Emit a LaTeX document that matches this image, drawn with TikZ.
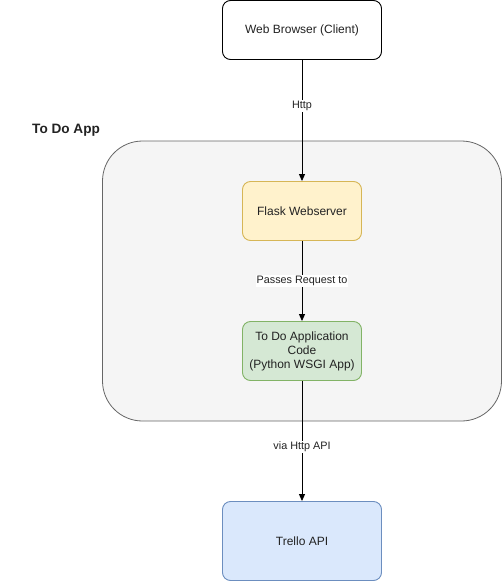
\documentclass[tikz,border=0pt]{standalone}
\usepackage{fontspec}
\setmainfont{Liberation Sans}
\usetikzlibrary{arrows.meta}
\definecolor{yfill}{HTML}{FFF2CC}\definecolor{ydraw}{HTML}{D6B656}
\definecolor{gfill}{HTML}{D5E8D4}\definecolor{gdraw}{HTML}{82B366}
\definecolor{bfill}{HTML}{DAE8FC}\definecolor{bdraw}{HTML}{6C8EBF}
\definecolor{cfill}{HTML}{F5F5F5}\definecolor{cdraw}{HTML}{666666}
\definecolor{txt}{HTML}{222222}
\tikzset{
  box/.style={draw, rounded corners=8pt, line width=0.9pt, align=center, text=txt, font=\fontsize{12}{14}\selectfont, inner sep=0pt},
  conn/.style={line width=0.9pt, -{Triangle[length=7pt,width=6pt]}},
  lbl/.style={fill=white, text=txt, font=\fontsize{10.8}{12}\selectfont, inner sep=1pt}
}
\begin{document}
\begin{tikzpicture}[x=1pt,y=-1pt]
\useasboundingbox (0,0) rectangle (503,582);
\node[draw=cdraw, fill=cfill, rounded corners=40pt, line width=0.8pt, minimum width=399pt, minimum height=280pt, inner sep=0pt] (cont) at (302,281) {};
\node[anchor=west, inner sep=0pt, font=\fontsize{13.6}{15}\selectfont\bfseries, text=txt] (title) at (32,130) {To Do App};
\node[box, draw=black, fill=white, minimum width=159pt, minimum height=59pt] (web) at (302,30) {Web Browser (Client)};
\node[box, draw=ydraw, fill=yfill, minimum width=119pt, minimum height=59pt] (flask) at (302,211) {Flask Webserver};
\node[box, draw=gdraw, fill=gfill, minimum width=119pt, minimum height=59pt] (code) at (302,351) {To Do Application\\Code\\(Python WSGI App)};
\node[box, draw=bdraw, fill=bfill, minimum width=159pt, minimum height=79pt] (trello) at (302,541) {Trello API};
\draw[conn] (web) -- node[lbl, pos=0.38] {Http} (flask);
\draw[conn] (flask) -- node[lbl, pos=0.5] {Passes Request to} (code);
\draw[conn] (code) -- node[lbl, pos=0.55] {via Http API} (trello);
\end{tikzpicture}
\end{document}
